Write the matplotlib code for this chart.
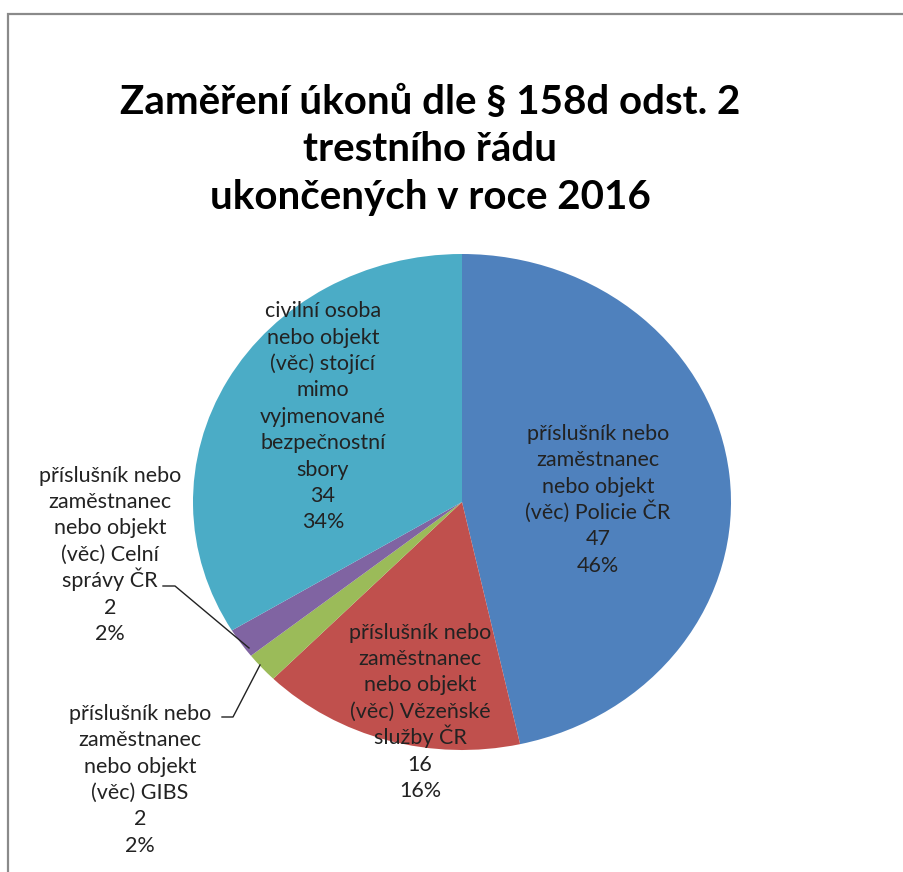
import matplotlib
matplotlib.use("Agg")
import matplotlib.pyplot as plt
from matplotlib.patches import Rectangle

# data
categories = [
    "příslušník nebo\nzaměstnanec\nnebo objekt\n(věc) Policie ČR",
    "příslušník nebo\nzaměstnanec\nnebo objekt\n(věc) Vězeňské\nslužby ČR",
    "příslušník nebo\nzaměstnanec\nnebo objekt\n(věc) GIBS",
    "příslušník nebo\nzaměstnanec\nnebo objekt\n(věc) Celní\nsprávy ČR",
    "civilní osoba\nnebo objekt\n(věc) stojící\nmimo\nvyjmenované\nbezpečnostní\nsbory",
]
counts = [47, 16, 2, 2, 34]
percent_labels = ["46%", "16%", "2%", "2%", "34%"]
colors = ["#4F81BD", "#C0504D", "#9BBB59", "#8064A2", "#4BACC6"]

title_lines = ["Zaměření úkonů dle § 158d odst. 2",
               "trestního řádu",
               "ukončených v roce 2016"]

W, H = 904, 872
fig = plt.figure(figsize=(W / 100, H / 100), dpi=100)
fig.patch.set_facecolor("white")

# grey frame of the chart area
fig.patches.append(Rectangle((8 / W, -0.1), 1.2, (H - 14) / H + 0.1,
                             transform=fig.transFigure, fill=False,
                             edgecolor="#8a8a8a", linewidth=1.6))

# pie bounding box in pixels (image is slightly stretched horizontally)
cx, cy, rx, ry = 462, 502, 269, 248
ax = fig.add_axes([(cx - rx) / W, (H - cy - ry) / H, 2 * rx / W, 2 * ry / H])
wedges, _ = ax.pie(counts, colors=colors, startangle=90, counterclock=False,
                   wedgeprops=dict(linewidth=0))
ax.set_aspect("auto")
ax.set_xlim(-1, 1)
ax.set_ylim(-1, 1)
ax.axis("off")

def to_data(px, py):
    return (px - cx) / rx, (cy - py) / ry

font = ["Lato", "DejaVu Sans"]

# one text per line on a fixed baseline step, so accents don't shift lines
def block(px, py, lines, step, size, **kw):
    cap = 0.717 * size * 100 / 72
    top = py - step * (len(lines) - 1) / 2
    for i, s in enumerate(lines):
        x, y = to_data(px, top + i * step + cap / 2)
        ax.text(x, y, s, ha="center", va="baseline", clip_on=False,
                family=font, fontsize=size, **kw)

label_pos = [(598, 498), (420, 710), (140, 778), (110, 553), (323, 415)]
for lab, n, pct, (px, py) in zip(categories, counts, percent_labels, label_pos):
    lines = lab.split("\n") + [str(n), pct]
    block(px, py, lines, 26.4, 15.5, color="#222222")

# leader lines for the two small slices
for pts in ([(163, 586), (175, 586), (249, 648)],
            [(222, 717), (233, 717), (260, 665)]):
    xs, ys = zip(*[to_data(px, py) for px, py in pts])
    ax.plot(xs, ys, color="#222222", linewidth=1, clip_on=False)

block(430, 147, title_lines, 47.5, 29, fontweight="bold", color="black")

fig.savefig("out.png", dpi=100, facecolor="white")
